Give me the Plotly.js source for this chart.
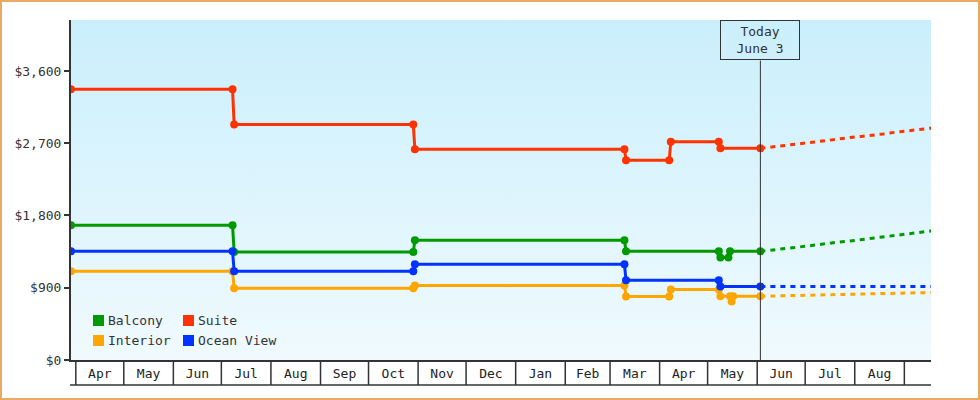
<!DOCTYPE html>
<html>
<head>
<meta charset="utf-8">
<script src="https://cdn.plot.ly/plotly-3.0.1.min.js"></script>
<style>
  html, body { margin: 0; padding: 0; background: #ffffff; }
  #wrap { position: relative; width: 980px; height: 400px; }
  #chart { width: 980px; height: 400px; }
  #frame { position: absolute; left: 0; top: 0; width: 980px; height: 400px; box-sizing: border-box; border: 2px solid #e9a964; pointer-events: none; }
</style>
</head>
<body>
<div id="wrap"><div id="chart"></div><div id="frame"></div></div>
<script>
// ---- data ----
const seriesNames  = ['Balcony', 'Suite', 'Interior', 'Ocean View'];
const seriesColors = ['#009900', '#ff3300', '#ffa500', '#0033ff'];

const balconyDates  = ['2014-03-29','2014-07-08','2014-07-09','2014-10-29','2014-10-30','2015-03-10','2015-03-11','2015-05-08','2015-05-09','2015-05-14','2015-05-15','2015-06-03'];
const balconyPrices = [1678, 1678, 1345, 1345, 1491, 1491, 1354, 1354, 1277, 1277, 1354, 1354];

const suiteDates  = ['2014-03-29','2014-07-08','2014-07-09','2014-10-29','2014-10-30','2015-03-10','2015-03-11','2015-04-07','2015-04-08','2015-05-08','2015-05-09','2015-06-03'];
const suitePrices = [3372, 3372, 2934, 2934, 2625, 2625, 2488, 2488, 2719, 2719, 2637, 2637];

const interiorDates  = ['2014-03-29','2014-07-08','2014-07-09','2014-10-29','2014-10-30','2015-03-10','2015-03-11','2015-04-07','2015-04-08','2015-05-08','2015-05-09','2015-05-15','2015-05-16','2015-05-17','2015-06-03'];
const interiorPrices = [1105, 1105, 893, 893, 928, 928, 791, 791, 878, 878, 794, 794, 729, 794, 794];

const oceanDates  = ['2014-03-29','2014-07-08','2014-07-09','2014-10-29','2014-10-30','2015-03-10','2015-03-11','2015-05-08','2015-05-09','2015-06-03'];
const oceanPrices = [1354, 1354, 1105, 1105, 1192, 1192, 993, 993, 916, 916];

// forecast (dashed)
const forecastDates = ['2015-06-03','2015-06-10','2015-06-17','2015-06-24','2015-07-01','2015-07-08','2015-07-15','2015-07-22','2015-07-29','2015-08-05','2015-08-12','2015-08-19','2015-08-26','2015-09-02','2015-09-09','2015-09-16','2015-09-23'];
const balconyForecast  = [1354, 1368, 1388, 1402, 1416, 1434, 1455, 1468, 1482, 1500, 1518, 1532, 1548, 1566, 1584, 1600, 1620];
const suiteForecast    = [2637, 2655, 2672, 2688, 2703, 2718, 2735, 2755, 2772, 2785, 2798, 2816, 2836, 2852, 2866, 2884, 2900];
const interiorForecast = [794, 797, 801, 806, 806, 808, 813, 818, 818, 820, 826, 831, 831, 836, 838, 843, 843];
const oceanForecast    = [916, 916, 916, 916, 916, 916, 916, 916, 916, 916, 916, 916, 916, 916, 916, 916, 916];

// axis
const monthStarts = ['2014-04-01','2014-05-01','2014-06-01','2014-07-01','2014-08-01','2014-09-01','2014-10-01','2014-11-01','2014-12-01','2015-01-01','2015-02-01','2015-03-01','2015-04-01','2015-05-01','2015-06-01','2015-07-01','2015-08-01','2015-09-01'];
const monthLabels = ['Apr','May','Jun','Jul','Aug','Sep','Oct','Nov','Dec','Jan','Feb','Mar','Apr','May','Jun','Jul','Aug'];
const yTickValues = [0, 900, 1800, 2700, 3600];
const yTickLabels = ['$0', '$900', '$1,800', '$2,700', '$3,600'];
const xRange = ['2014-03-29', '2015-09-17 16:00'];
const yRange = [0, 4235];
const todayDate = '2015-06-03';
const todayText = 'Today<br>June 3';

// ---- build ----
const FONT = 'DejaVu Sans Mono, monospace';
const pad2 = n => (n < 10 ? '0' : '') + n;
function midDate(a, b) {
  const d = new Date((Date.parse(a) + Date.parse(b)) / 2);
  return d.getUTCFullYear() + '-' + pad2(d.getUTCMonth() + 1) + '-' + pad2(d.getUTCDate()) + ' ' + pad2(d.getUTCHours()) + ':00';
}
const tickMids = monthLabels.map((_, i) => midDate(monthStarts[i], monthStarts[i + 1]));

const hist = [[balconyDates, balconyPrices], [suiteDates, suitePrices], [interiorDates, interiorPrices], [oceanDates, oceanPrices]];
const fut = [balconyForecast, suiteForecast, interiorForecast, oceanForecast];

const traces = [];
fut.forEach((vals, i) => {
  traces.push({
    type: 'scatter', mode: 'lines', x: forecastDates, y: vals, name: seriesNames[i] + ' forecast',
    showlegend: false, hoverinfo: 'skip',
    line: { color: seriesColors[i], width: 3, dash: '5px,5px' }
  });
});
hist.forEach((h, i) => {
  traces.push({
    type: 'scatter', mode: 'lines+markers', x: h[0], y: h[1], name: seriesNames[i],
    showlegend: false,
    line: { color: seriesColors[i], width: 3 },
    marker: { color: seriesColors[i], size: 8, symbol: 'circle' }
  });
});

const L = 71, R = 49, T = 20, B = 40, W = 980, H = 400;
const pw = W - L - R, ph = H - T - B;
const px = v => (v - L) / pw;       // pixel x -> paper
const py = v => (H - B - v) / ph;   // pixel y -> paper

const shapes = [];
monthStarts.forEach(d => {
  shapes.push({ type: 'line', xref: 'x', yref: 'paper', x0: d, x1: d, y0: 0, y1: py(385), line: { color: '#333333', width: 1.5 } });
});
shapes.push({ type: 'line', xref: 'paper', yref: 'paper', x0: px(70), x1: 1, y0: py(385), y1: py(385), line: { color: '#333333', width: 1.5 } });
shapes.push({ type: 'line', xref: 'x', yref: 'paper', x0: todayDate, x1: todayDate, y0: 0, y1: py(60.5), line: { color: '#333333', width: 1 } });

// custom legend (2 columns)
const legendPos = [[93, 315], [183, 315], [93, 335], [183, 335]];
const annotations = [];
seriesNames.forEach((n, i) => {
  const [lx, ly] = legendPos[i];
  shapes.push({ type: 'rect', xref: 'paper', yref: 'paper', x0: px(lx), x1: px(lx + 11), y0: py(ly + 11), y1: py(ly), fillcolor: seriesColors[i], line: { width: 0 } });
  annotations.push({ xref: 'paper', yref: 'paper', x: px(lx + 13), y: py(ly + 5.5), xanchor: 'left', yanchor: 'middle', text: n, showarrow: false, font: { family: FONT, size: 13, color: '#333333' } });
});
annotations.push({
  xref: 'x', yref: 'paper', x: todayDate, y: 1, xanchor: 'center', yanchor: 'top', text: todayText, showarrow: false,
  font: { family: FONT, size: 13, color: '#333333' }, bordercolor: '#333333', borderwidth: 1, borderpad: 1,
  bgcolor: 'rgba(0,0,0,0)', width: 76, height: 36, align: 'center'
});

const grad = "<svg xmlns='http://www.w3.org/2000/svg' width='10' height='100' preserveAspectRatio='none'><defs><linearGradient id='g' x1='0' y1='0' x2='0' y2='1'><stop offset='0' stop-color='#caeffc'/><stop offset='1' stop-color='#f0fafe'/></linearGradient></defs><rect width='10' height='100' fill='url(#g)'/></svg>";

const layout = {
  width: W, height: H,
  margin: { l: L, r: R, t: T, b: B, pad: 0 },
  paper_bgcolor: '#ffffff', plot_bgcolor: 'rgba(0,0,0,0)',
  showlegend: false,
  font: { family: FONT, size: 13, color: '#333333' },
  images: [{ source: 'data:image/svg+xml;charset=utf-8,' + encodeURIComponent(grad), xref: 'paper', yref: 'paper', x: 0, y: 1, sizex: 1, sizey: 1, sizing: 'stretch', xanchor: 'left', yanchor: 'top', layer: 'below' }],
  xaxis: {
    type: 'date', range: xRange, showgrid: false, zeroline: false,
    showline: true, linecolor: '#333333', linewidth: 1.5,
    tickmode: 'array', tickvals: tickMids, ticktext: monthLabels, ticks: '',
    tickfont: { family: FONT, size: 13, color: '#222222' }, ticklabelstandoff: 1
  },
  yaxis: {
    range: yRange, showgrid: false, zeroline: false,
    showline: true, linecolor: '#333333', linewidth: 2,
    tickmode: 'array', tickvals: yTickValues, ticktext: yTickLabels,
    ticks: 'outside', ticklen: 5, tickwidth: 2, tickcolor: '#333333',
    tickfont: { family: FONT, size: 13, color: '#333333' }
  },
  shapes: shapes,
  annotations: annotations
};

Plotly.newPlot('chart', traces, layout, { displayModeBar: false, staticPlot: true });
</script>
</body>
</html>
